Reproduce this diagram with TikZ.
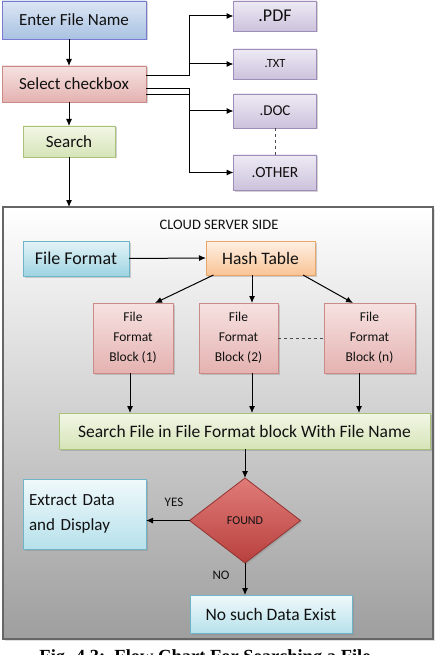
\documentclass[tikz,border=0pt]{standalone}
\usepackage{fontspec}
\setmainfont{Carlito}
\newfontfamily\capfont{Liberation Serif}
\usetikzlibrary{shapes.geometric,arrows.meta,shadows}
\definecolor{txt}{HTML}{111111}
\tikzset{
  box/.style={draw=#1, line width=0.8pt, inner sep=2pt, outer sep=0pt, text=txt, align=center,
    drop shadow={shadow xshift=1.5pt, shadow yshift=-1.5pt, opacity=0.35, fill=black!50}},
  bluebox/.style={box=blue!50!gray!70, top color=HTML1, bottom color=HTML2},
  arr/.style={-{Latex[length=7pt,width=6pt]}, line width=1pt, black},
  ln/.style={line width=1pt, black},
}
\definecolor{HTML1}{HTML}{DCE6F4}
\definecolor{HTML2}{HTML}{A9C2E2}
\definecolor{pinkT}{HTML}{F6E2E1}
\definecolor{pinkB}{HTML}{E4B2B0}
\definecolor{pinkD}{HTML}{C98A88}
\definecolor{grnT}{HTML}{F2F7E6}
\definecolor{grnB}{HTML}{D6E4B8}
\definecolor{grnD}{HTML}{A9C27A}
\definecolor{lavT}{HTML}{EEEAF4}
\definecolor{lavB}{HTML}{CCC2DC}
\definecolor{lavD}{HTML}{9D8DB8}
\definecolor{cyT}{HTML}{E4F3F7}
\definecolor{cyB}{HTML}{9ED4E2}
\definecolor{cyD}{HTML}{6FB4C8}
\definecolor{orT}{HTML}{FEF0E4}
\definecolor{orB}{HTML}{F9C495}
\definecolor{orD}{HTML}{E9A66A}
\definecolor{ltcyT}{HTML}{F0F9FB}
\definecolor{ltcyB}{HTML}{B7E1EB}
\definecolor{redT}{HTML}{E07C79}
\definecolor{redB}{HTML}{B8403D}
\begin{document}
\begin{tikzpicture}[x=1pt,y=-1pt]
\useasboundingbox (0,0) rectangle (439,655);
\fill[white] (0,0) rectangle (439,655);

% cloud box
\node[draw=gray!80!black, line width=1.6pt, top color=white, bottom color=black!38, minimum width=430pt, minimum height=432pt, inner sep=0pt, outer sep=0pt,
  drop shadow={shadow xshift=1.5pt, shadow yshift=-2pt, opacity=0.3, fill=black!40}] (cloud) at (218,423) {};

% client side
\node[bluebox, minimum width=144pt, minimum height=38pt, font=\fontsize{17}{19}\selectfont] (enter) at (74,20) {Enter File Name};
\node[box=pinkD, top color=pinkT, bottom color=pinkB, minimum width=144pt, minimum height=36pt, font=\fontsize{17}{19}\selectfont] (sel) at (74,84) {Select checkbox};
\node[box=grnD, top color=grnT, bottom color=grnB, minimum width=92pt, minimum height=31pt, font=\fontsize{17}{19}\selectfont] (search) at (69,141.5) {Search};

\node[box=lavD, top color=lavT, bottom color=lavB, minimum width=83pt, minimum height=30pt, font=\fontsize{18}{20}\selectfont] (pdf) at (275,16) {.PDF};
\node[box=lavD, top color=lavT, bottom color=lavB, minimum width=83pt, minimum height=30pt, font=\fontsize{12.5}{14}\selectfont] (txtf) at (275,64) {.TXT};
\node[box=lavD, top color=lavT, bottom color=lavB, minimum width=83pt, minimum height=34pt, font=\fontsize{15}{17}\selectfont] (doc) at (275,111) {.DOC};
\node[box=lavD, top color=lavT, bottom color=lavB, minimum width=83pt, minimum height=35pt, font=\fontsize{15.5}{17}\selectfont] (other) at (275,172.5) {.OTHER};

\draw[arr] (enter.south -| search.north) -- (sel.north -| search.north);
\draw[arr] (sel.south -| search.north) -- (search.north);
\draw[arr] (search.south) -- (search.south |- cloud.north);

\coordinate (jtop) at (189,76);
\coordinate (jbot) at (189,89);
\draw[ln] ([yshift=8pt]sel.east) -- (jtop) -- (jtop |- pdf.west);
\draw[arr] (jtop |- pdf.west) -- (pdf.west);
\draw[arr] (jtop |- txtf.west) -- (txtf.west);
\draw[ln] ([yshift=-5pt]sel.east) -- (jbot) -- (jbot |- other.west);
\draw[ln] ([yshift=-11pt]sel.east) -- (jbot |- 0,95);
\draw[arr] (jbot |- doc.west) -- (doc.west);
\draw[arr] (jbot |- other.west) -- (other.west);
\draw[line width=1pt, dashed, black!70] (doc.south) -- (other.north);

% server side
\node[text=txt, font=\fontsize{14.5}{16}\selectfont] (cs) at (219,225) {CLOUD SERVER SIDE};
\node[box=cyD, top color=cyT, bottom color=cyB, minimum width=106pt, minimum height=35pt, font=\fontsize{18}{20}\selectfont] (ff) at (76,258.5) {File Format};
\node[box=orD, top color=orT, bottom color=orB, minimum width=109pt, minimum height=34pt, font=\fontsize{17.5}{19}\selectfont] (hash) at (260.5,258) {Hash Table};
\draw[arr] (ff.east) -- (hash.west);

\tikzset{blk/.style={box=pinkD, top color=pinkT, bottom color=pinkB, minimum height=70pt, font=\fontsize{13.5}{20}\selectfont}}
\node[blk, minimum width=80pt] (b1) at (133,338) {File\\Format\\Block (1)};
\node[blk, minimum width=79pt] (b2) at (238.5,338) {File\\Format\\Block (2)};
\node[blk, minimum width=91pt] (bn) at (369.5,338) {File\\Format\\Block (n)};

\draw[arr] ([xshift=-47pt]hash.south) -- (155,303);
\draw[arr] ([xshift=-8.5pt]hash.south) -- ([xshift=13.5pt]b2.north);
\draw[arr] ([xshift=42.5pt]hash.south) -- (353,303);
\draw[line width=1pt, dashed, black!70] (b2.east) -- (bn.west);

\node[box=grnD, top color=grnT, bottom color=grnB, minimum width=371pt, minimum height=36pt, font=\fontsize{17.5}{19}\selectfont] (sf) at (244.5,431) {Search File in File Format block With File Name};
\draw[arr] (b1.south -| 130,0) -- (sf.north -| 130,0);
\draw[arr] (b2.south -| 252,0) -- (sf.north -| 252,0);
\draw[arr] (bn.south -| 359,0) -- (sf.north -| 359,0);

\node[diamond, draw=redB!80!black, line width=0.8pt, top color=redT, bottom color=redB, minimum width=111pt, minimum height=85pt, inner sep=0pt, outer sep=0pt, text=txt, font=\fontsize{12}{14}\selectfont,
  drop shadow={shadow xshift=1.5pt, shadow yshift=-1.5pt, opacity=0.35, fill=black!50}] (found) at (245,520.5) {FOUND};
\draw[arr] (sf.south -| found.north) -- (found.north);

\node[box=cyD, top color=ltcyT, bottom color=ltcyB, minimum width=123pt, minimum height=70pt, font=\fontsize{17}{25}\selectfont, align=left, text width=111pt] (ext) at (84.5,514) {Extract Data\\and Display};
\node[box=cyD, top color=ltcyT, bottom color=ltcyB, minimum width=162pt, minimum height=38pt, font=\fontsize{17.5}{19}\selectfont] (nos) at (271,614) {No such Data Exist};

\draw[arr] (found.west) -- (ext.east |- found.west);
\node[text=txt, font=\fontsize{13}{15}\selectfont] (yes) at (174,502) {YES};
\draw[arr] (found.south) -- (found.south |- nos.north);
\node[text=txt, font=\fontsize{13}{15}\selectfont] (no) at (221,575) {NO};

% caption
\node[anchor=base, font=\capfont\bfseries\fontsize{18.5}{20}\selectfont] (cap) at (205,662) {Fig. 4.3:\enspace Flow Chart For Searching a File};
\end{tikzpicture}
\end{document}
